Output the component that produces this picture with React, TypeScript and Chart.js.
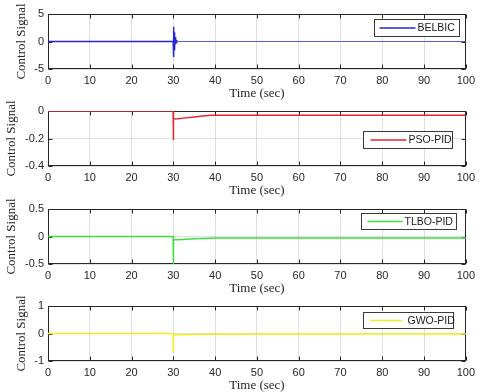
import React, { useEffect, useRef } from "react";
import { Chart, registerables } from "chart.js";

Chart.register(...registerables);

// ---- data ----
const xTicksMin = 0;
const xTicksMax = 100;
const xTickStep = 10;

const belbicTime = [0, 29.95, 30.0, 30.05, 30.1, 30.15, 30.2, 30.25, 30.3, 30.35, 30.4, 30.5, 30.6, 30.7, 30.8, 31, 35, 50, 70, 100];
const belbicSignal = [0, 0, 2.7, -2.8, 2.3, -2.2, 1.7, -1.6, 1.2, -1.1, 0.8, -0.5, 0.35, -0.2, 0.1, 0, 0, 0, 0, 0];

const psoTime = [0, 29.95, 30.0, 30.05, 31, 33, 35, 37, 39, 40, 45, 60, 80, 100];
const psoSignal = [0, 0, -0.21, -0.058, -0.056, -0.05, -0.043, -0.036, -0.031, -0.03, -0.03, -0.03, -0.03, -0.03];

const tlboTime = [0, 29.95, 30.0, 30.05, 31, 33, 35, 37, 40, 45, 60, 80, 100];
const tlboSignal = [0, 0, -0.5, -0.06, -0.058, -0.05, -0.042, -0.035, -0.028, -0.027, -0.026, -0.026, -0.026];

const gwoTime = [0, 29.95, 30.0, 30.05, 31, 35, 40, 50, 70, 100];
const gwoSignal = [0, 0, -0.69, -0.05, -0.048, -0.035, -0.025, -0.022, -0.02, -0.02];

const yLabel = "Control Signal";
const xLabel = "Time (sec)";

type Panel = {
  time: number[];
  values: number[];
  label: string;
  color: string;
  afterColor?: string;
  lineWidth: number;
  yMin: number;
  yMax: number;
  yStep: number;
  top: number; // page y of plot area top
  padLeft: number;
  legend: { right: number; top: number; w: number; h: number; l1: number; l2: number; tx: number };
};

const panels: Panel[] = [
  {
    time: belbicTime, values: belbicSignal, label: "BELBIC", color: "#2626d4", afterColor: "#5a5ae0", lineWidth: 1.5,
    yMin: -5, yMax: 5, yStep: 5, top: 14, padLeft: 10,
    legend: { right: 7, top: 5, w: 85, h: 17, l1: 5, l2: 41, tx: 43 },
  },
  {
    time: psoTime, values: psoSignal, label: "PSO-PID", color: "#e4242c", lineWidth: 1.5,
    yMin: -0.4, yMax: 0, yStep: 0.2, top: 111, padLeft: 0,
    legend: { right: 14, top: 20, w: 89, h: 17, l1: 7, l2: 43, tx: 45 },
  },
  {
    time: tlboTime, values: tlboSignal, label: "TLBO-PID", color: "#3ede3e", lineWidth: 1.5,
    yMin: -0.5, yMax: 0.5, yStep: 0.5, top: 209, padLeft: 0,
    legend: { right: 10, top: 4, w: 95, h: 16, l1: 6, l2: 41, tx: 43 },
  },
  {
    time: gwoTime, values: gwoSignal, label: "GWO-PID", color: "#eeee22", lineWidth: 1.5,
    yMin: -1, yMax: 1, yStep: 1, top: 306, padLeft: 10,
    legend: { right: 13, top: 6, w: 90, h: 16, l1: 7, l2: 39, tx: 44 },
  },
];

const PAD_TOP = 14;
const PLOT_H = 55;
const XAXIS_H = 36;
const CANVAS_H = PAD_TOP + PLOT_H + XAXIS_H;
const CANVAS_W = 480;
const PLOT_LEFT = 48;

const frameColor = "#262626";

const framePlugin = {
  id: "matlabFrame",
  beforeDatasetsDraw(chart: any) {
    const { ctx, chartArea } = chart;
    const { left, right, top, bottom } = chartArea;
    ctx.save();
    ctx.strokeStyle = frameColor;
    ctx.lineWidth = 1;
    const L = Math.round(left) + 0.5;
    const R = Math.round(right) - 0.5;
    const T = Math.round(top) + 0.5;
    const B = Math.round(bottom) - 0.5;
    ctx.strokeRect(L, T, R - L, B - T);
    ctx.beginPath();
    const xs = chart.scales.x;
    xs.ticks.forEach((t: any) => {
      const px = Math.round(xs.getPixelForValue(t.value)) + 0.5;
      ctx.moveTo(px, B);
      ctx.lineTo(px, B - 4);
      ctx.moveTo(px, T);
      ctx.lineTo(px, T + 4);
    });
    const ys = chart.scales.y;
    ys.ticks.forEach((t: any) => {
      const py = Math.round(ys.getPixelForValue(t.value)) + 0.5;
      ctx.moveTo(L, py);
      ctx.lineTo(L + 4, py);
      ctx.moveTo(R, py);
      ctx.lineTo(R - 4, py);
    });
    ctx.stroke();
    ctx.restore();
  },
  afterDatasetsDraw(chart: any) {
    const opts = chart.options.plugins.boxLegend;
    if (!opts) return;
    const { ctx, chartArea } = chart;
    const x = Math.round(chartArea.right - opts.right - opts.w) + 0.5;
    const y = Math.round(chartArea.top + opts.top) + 0.5;
    ctx.save();
    ctx.fillStyle = "#ffffff";
    ctx.fillRect(x, y, opts.w, opts.h);
    ctx.strokeStyle = "#3a3a3a";
    ctx.lineWidth = 1;
    ctx.strokeRect(x, y, opts.w, opts.h);
    const cy = y + opts.h / 2;
    ctx.strokeStyle = opts.color;
    ctx.lineWidth = 1.5;
    ctx.beginPath();
    ctx.moveTo(x + opts.l1, cy);
    ctx.lineTo(x + opts.l2, cy);
    ctx.stroke();
    ctx.fillStyle = "#1a1a1a";
    ctx.font = "10.5px 'Liberation Sans', Arial, sans-serif";
    ctx.textBaseline = "middle";
    ctx.textAlign = "left";
    ctx.fillText(opts.label, x + opts.tx, cy + 0.5);
    ctx.restore();
  },
};

function SubPlot({ p }: { p: Panel }) {
  const ref = useRef<HTMLCanvasElement | null>(null);
  useEffect(() => {
    if (!ref.current) return;
    const chart = new Chart(ref.current, {
      type: "line",
      data: {
        datasets: [
          {
            label: p.label,
            data: p.time.map((t, i) => ({ x: t, y: p.values[i] })),
            borderColor: p.color,
            backgroundColor: p.color,
            borderWidth: p.lineWidth,
            pointRadius: 0,
            tension: 0,
            fill: false,
            segment: p.afterColor
              ? {
                  borderColor: (c: any) => (c.p0.parsed.x >= 31 ? p.afterColor : undefined),
                  borderWidth: (c: any) => (c.p0.parsed.x >= 31 ? 1 : undefined),
                }
              : undefined,
          },
        ],
      },
      options: {
        responsive: false,
        animation: false,
        layout: { padding: { top: PAD_TOP, left: p.padLeft, right: 13, bottom: 0 } },
        plugins: {
          legend: { display: false },
          tooltip: { enabled: false },
          boxLegend: { label: p.label, color: p.color, ...p.legend },
        } as any,
        scales: {
          x: {
            type: "linear",
            min: xTicksMin,
            max: xTicksMax,
            ticks: {
              stepSize: xTickStep,
              color: "#262626",
              font: { family: "'Liberation Sans', Arial, sans-serif", size: 11 },
              padding: 5,
              maxRotation: 0,
            },
            grid: { color: "rgba(0,0,0,0.12)", drawTicks: false },
            border: { display: false },
            title: {
              display: true,
              text: xLabel,
              color: "#262626",
              font: { family: "'Liberation Serif', 'Times New Roman', serif", size: 13 },
              padding: { top: 0, bottom: 4 },
            },
            afterFit: (s: any) => {
              s.height = XAXIS_H;
            },
          },
          y: {
            type: "linear",
            min: p.yMin,
            max: p.yMax,
            ticks: {
              stepSize: p.yStep,
              color: "#262626",
              font: { family: "'Liberation Sans', Arial, sans-serif", size: 11 },
              padding: 4,
            },
            grid: { color: "rgba(0,0,0,0.12)", drawTicks: false },
            border: { display: false },
            title: {
              display: true,
              text: yLabel,
              color: "#262626",
              font: { family: "'Liberation Serif', 'Times New Roman', serif", size: 13 },
              padding: { top: 4, bottom: 4 },
            },
            afterFit: (s: any) => {
              s.width = PLOT_LEFT - p.padLeft;
            },
          },
        },
      },
      plugins: [framePlugin],
    } as any);
    return () => chart.destroy();
  }, [p]);
  return (
    <div style={{ position: "absolute", left: 0, top: p.top - PAD_TOP, width: CANVAS_W, height: CANVAS_H }}>
      <canvas ref={ref} width={CANVAS_W} height={CANVAS_H} style={{ display: "block", width: CANVAS_W, height: CANVAS_H }} />
    </div>
  );
}

export default function App() {
  return (
    <div style={{ position: "absolute", left: 0, top: 0, width: 480, height: 392, overflow: "hidden", background: "#ffffff" }}>
      {panels.map((p) => (
        <SubPlot key={p.label} p={p} />
      ))}
    </div>
  );
}
